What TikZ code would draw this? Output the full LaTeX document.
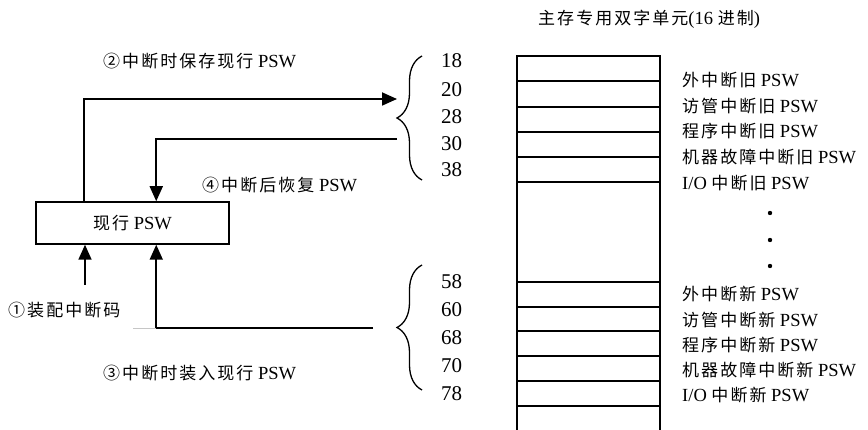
\documentclass[tikz,border=0pt]{standalone}
\usepackage{fontspec}
\setmainfont{Liberation Serif}
\newfontfamily\cjk[LetterSpace=12]{Noto Sans CJK SC}
\usetikzlibrary{arrows.meta,decorations.pathreplacing}
\newcommand{\zh}[1]{{\cjk\fontsize{17}{20}\selectfont #1}}
\begin{document}
\begin{tikzpicture}[x=1pt,y=-1pt,
  every node/.style={font=\fontsize{18.5}{22}\selectfont},
  lbl/.style={inner sep=0pt, anchor=base west},
  num/.style={inner sep=0pt, anchor=base west, font=\fontsize{21}{24}\selectfont},
  arr/.style={line width=1.8pt, -{Triangle[length=15pt,width=13pt]}},
  mem/.style={line width=1.4pt},
  brc/.style={decorate, decoration={brace, amplitude=25pt}, line width=1.3pt}]
\useasboundingbox (0,0) rectangle (868,430);

% current PSW box
\node[draw, line width=1.5pt, minimum width=193pt, minimum height=42pt, inner sep=0pt] (cur) at (132.5,223) {\zh{现行} PSW};

% named end points
\coordinate (s2) at (397,99);
\coordinate (s4) at (397,139);
\coordinate (s1) at (85,285);
\coordinate (s3) at (373,328);
\coordinate (g3) at (133,328);

% connectors
\draw[arr] ([xshift=49pt]cur.north west) |- (s2);
\draw[arr] (s4) -| ([xshift=121pt]cur.north west);
\draw[arr] (s1) -- (s1 |- cur.south);
\draw[arr] (s3) -| ([xshift=121pt]cur.south west);
\draw[gray!45, line width=0.7pt] (g3) -- ([xshift=121pt]cur.south west |- g3);

% labels on the left
\node[lbl] (l2) at (103,67.5) {\zh{②中断时保存现行} PSW};
\node[lbl] (l4) at (202,191.5) {\zh{④中断后恢复} PSW};
\node[lbl] (l1) at (8,316.5) {\zh{①装配中断码}};
\node[lbl] (l3) at (103,379.5) {\zh{③中断时装入现行} PSW};

% braces
\draw[brc] (422,180) -- (422,56);
\draw[brc] (422,390) -- (422,265);

% addresses
\node[num] (a18) at (441,68) {18};
\node[num] (a20) at (441,96.5) {20};
\node[num] (a28) at (441,124) {28};
\node[num] (a30) at (441,151) {30};
\node[num] (a38) at (441,177) {38};
\node[num] (a58) at (441,289) {58};
\node[num] (a60) at (441,317) {60};
\node[num] (a68) at (441,345) {68};
\node[num] (a70) at (441,373) {70};
\node[num] (a78) at (441,400) {78};

% memory column
\draw[mem] (517,431) -- (517,56) -- (660,56) -- (660,431);
\foreach \yy in {81,107,132,157,182,282,307,331,356,381,406}
  \draw[mem] (517,\yy) -- (660,\yy);

% title
\node[lbl] (title) at (538,24.5) {\zh{主存专用双字单元}(16 \zh{进制})};

% memory labels
\node[lbl] (o1) at (682,86.5) {\zh{外中断旧} PSW};
\node[lbl] (o2) at (682,112.5) {\zh{访管中断旧} PSW};
\node[lbl] (o3) at (682,137.5) {\zh{程序中断旧} PSW};
\node[lbl] (o4) at (682,163.5) {\zh{机器故障中断旧} PSW};
\node[lbl] (o5) at (682,189.5) {I/O \zh{中断旧} PSW};
\node[lbl] (n1) at (682,300.5) {\zh{外中断新} PSW};
\node[lbl] (n2) at (682,326.5) {\zh{访管中断新} PSW};
\node[lbl] (n3) at (682,351.5) {\zh{程序中断新} PSW};
\node[lbl] (n4) at (682,376.5) {\zh{机器故障中断新} PSW};
\node[lbl] (n5) at (682,401.5) {I/O \zh{中断新} PSW};

% dots
\fill (770,213) circle (2.2);
\fill (770,240) circle (2.2);
\fill (770,266) circle (2.2);
\end{tikzpicture}
\end{document}
